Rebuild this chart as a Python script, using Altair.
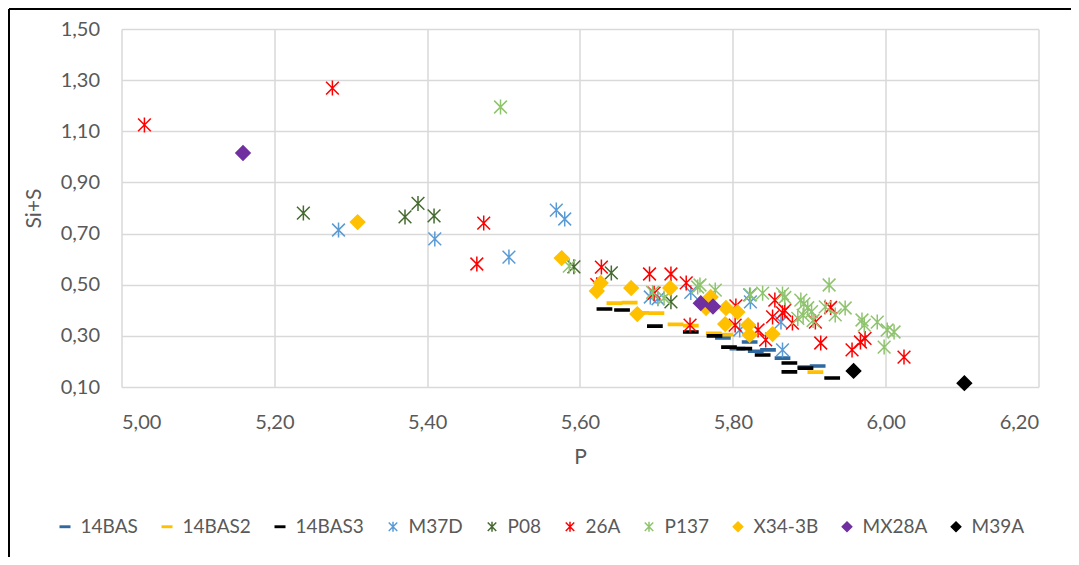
import altair as alt
import pandas as pd

# ---- data ----
SERIES = ["14BAS", "14BAS2", "14BAS3", "M37D", "P08", "26A", "P137", "X34-3B", "MX28A", "M39A"]
COLORS = ["#2F69A0", "#FFC000", "#000000", "#5B9BD5", "#456B30", "#FF0000", "#8FC46E", "#FFC000", "#7030A0", "#000000"]

bas_p = [5.787, 5.806, 5.822, 5.830, 5.846, 5.865, 5.895, 5.911]
bas_s = [0.292, 0.250, 0.276, 0.240, 0.245, 0.213, 0.178, 0.182]

bas2_p = [5.645, 5.665, 5.680, 5.700, 5.725, 5.745, 5.775, 5.790, 5.908]
bas2_s = [0.428, 0.430, 0.390, 0.389, 0.345, 0.340, 0.310, 0.305, 0.158]

bas3_p = [5.632, 5.655, 5.698, 5.745, 5.776, 5.795, 5.815, 5.839, 5.874, 5.874, 5.895, 5.930]
bas3_s = [0.405, 0.401, 0.338, 0.315, 0.300, 0.256, 0.250, 0.225, 0.194, 0.159, 0.174, 0.135]

m37d_p = [5.284, 5.410, 5.507, 5.569, 5.580, 5.692, 5.702, 5.745, 5.822, 5.823, 5.809, 5.863, 5.865]
m37d_s = [0.714, 0.679, 0.608, 0.792, 0.757, 0.452, 0.445, 0.470, 0.460, 0.433, 0.323, 0.354, 0.245]

p08_p = [5.238, 5.371, 5.388, 5.409, 5.592, 5.641, 5.719]
p08_s = [0.780, 0.765, 0.818, 0.769, 0.570, 0.546, 0.433]

a26_p = [5.030, 5.276, 5.474, 5.465, 5.628, 5.622, 5.691, 5.719, 5.697, 5.739, 5.744, 5.804, 5.803,
         5.833, 5.843, 5.852, 5.855, 5.865, 5.868, 5.878, 5.908, 5.928, 5.915, 5.956, 5.967, 5.973, 6.024]
a26_s = [1.125, 1.269, 0.741, 0.581, 0.569, 0.500, 0.542, 0.542, 0.467, 0.507, 0.342, 0.417, 0.342,
         0.323, 0.284, 0.374, 0.440, 0.390, 0.400, 0.350, 0.354, 0.411, 0.272, 0.245, 0.276, 0.290, 0.217]

p137_p = [5.496, 5.586, 5.710, 5.695, 5.754, 5.757, 5.777, 5.823, 5.839, 5.865, 5.868, 5.889, 5.893, 5.898,
          5.903, 5.892, 5.885, 5.905, 5.926, 5.921, 5.934, 5.947, 5.969, 5.972, 5.989, 6.002, 6.011, 5.998]
p137_s = [1.195, 0.573, 0.448, 0.470, 0.491, 0.499, 0.479, 0.460, 0.467, 0.464, 0.450, 0.440, 0.425, 0.410,
          0.395, 0.380, 0.368, 0.360, 0.499, 0.413, 0.382, 0.409, 0.362, 0.342, 0.354, 0.323, 0.315, 0.256]

x34_p = [5.309, 5.576, 5.627, 5.622, 5.667, 5.675, 5.718, 5.771, 5.765, 5.791, 5.806, 5.790, 5.820, 5.822, 5.852]
x34_s = [0.745, 0.604, 0.507, 0.475, 0.487, 0.385, 0.487, 0.452, 0.409, 0.409, 0.393, 0.346, 0.342, 0.303, 0.307]

mx28_p = [5.159, 5.758, 5.774]
mx28_s = [1.015, 0.428, 0.415]

m39_p = [5.958, 6.103]
m39_s = [0.163, 0.115]

X_TICKS = [5.0, 5.2, 5.4, 5.6, 5.8, 6.0, 6.2]
Y_TICKS = [0.1, 0.3, 0.5, 0.7, 0.9, 1.1, 1.3, 1.5]

# ---- marker shapes ----
DASH = "M-0.95,-0.14L0.95,-0.14L0.95,0.14L-0.95,0.14Z"
ASTER = "M-0.85,-0.85L0.85,0.85M-0.85,0.85L0.85,-0.85M0,-1L0,1"
DIAMOND = "M0,-0.95L0.95,0L0,0.95L-0.95,0Z"
SHAPES = [DASH, DASH, DASH, ASTER, ASTER, ASTER, ASTER, DIAMOND, DIAMOND, DIAMOND]
STROKES = [1.5, 1.5, 1.5, 2.8, 2.8, 2.8, 2.8, 1, 1, 1]

pairs = [(bas_p, bas_s), (bas2_p, bas2_s), (bas3_p, bas3_s), (m37d_p, m37d_s), (p08_p, p08_s),
         (a26_p, a26_s), (p137_p, p137_s), (x34_p, x34_s), (mx28_p, mx28_s), (m39_p, m39_s)]
rows = []
for name, (ps, ss) in zip(SERIES, pairs):
    for p, s in zip(ps, ss):
        rows.append({"series": name, "P": p, "SiS": s})
df = pd.DataFrame(rows)

FONT = "Lato"
GREY = "#595959"

legend = alt.Legend(
    title=None, orient="none", legendX=-66, legendY=488, direction="horizontal", columns=10,
    columnPadding=19, labelOffset=6, labelFontSize=19, labelFont=FONT, labelColor=GREY,
    symbolSize=100, symbolStrokeWidth=2, symbolOpacity=1,
)

points = alt.Chart(df).mark_point(filled=True, opacity=1, size=225).encode(
    x=alt.X("P:Q", scale=alt.Scale(domain=[5.0, 6.2], nice=False, zero=False),
            axis=alt.Axis(values=X_TICKS, title="P", labelExpr="replace(format(datum.value, '.2f'), '.', ',')",
                          labelPadding=25, titleY=70, titleBaseline="middle")),
    y=alt.Y("SiS:Q", scale=alt.Scale(domain=[0.1, 1.5], nice=False, zero=False),
            axis=alt.Axis(values=Y_TICKS, title="Si+S", labelExpr="replace(format(datum.value, '.2f'), '.', ',')",
                          labelPadding=22, titleX=-87, titleY=179, titleBaseline="middle")),
    fill=alt.Fill("series:N", scale=alt.Scale(domain=SERIES, range=COLORS), legend=legend),
    stroke=alt.Stroke("series:N", scale=alt.Scale(domain=SERIES, range=COLORS), legend=legend),
    shape=alt.Shape("series:N", scale=alt.Scale(domain=SERIES, range=SHAPES), legend=legend),
    strokeWidth=alt.StrokeWidth("series:N", scale=alt.Scale(domain=SERIES, range=STROKES), legend=None),
    order=alt.Order("idx:Q"),
).transform_window(idx="row_number()")

frame = alt.Data(values=[{"k": 1}])
border_left = alt.Chart(frame).mark_rule(color="#000000", strokeWidth=2).encode(
    x=alt.value(-112.5), y=alt.value(-20), y2=alt.value(540))
border_top = alt.Chart(frame).mark_rule(color="#000000", strokeWidth=2).encode(
    x=alt.value(-112.5), x2=alt.value(950), y=alt.value(-20))

chart = alt.layer(points, border_left, border_top).properties(
    width=917, height=358,
    autosize=alt.AutoSizeParams(type="none"),
    padding={"left": 113.5, "top": 21, "right": 32.5, "bottom": 170},
    background="white",
).configure_view(strokeWidth=0).configure_axis(
    grid=True, gridColor="#D9D9D9", gridWidth=1.5, domain=False, ticks=False,
    labelFont=FONT, labelFontSize=20, labelColor=GREY,
    titleFont=FONT, titleFontSize=21, titleColor=GREY, titleFontWeight="normal",
)

chart.save("out.html", embed_options={"renderer": "svg", "actions": False})
